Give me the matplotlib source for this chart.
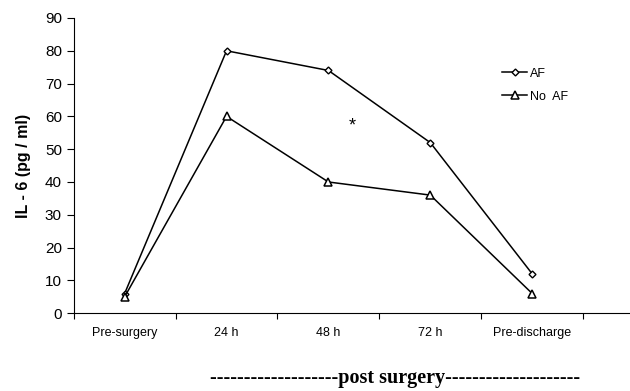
import numpy as np
import matplotlib.pyplot as plt

plt.rcParams['font.family'] = ['Liberation Sans', 'DejaVu Sans']

categories = ["Pre-surgery", "24 h", "48 h", "72 h", "Pre-discharge"]
af = [6, 80, 74, 52, 12]
no_af = [5, 60, 40, 36, 6]

x = np.arange(len(categories))

fig = plt.figure(figsize=(6.3, 3.91), dpi=100)
ax = fig.add_axes([0.117, 0.199, 0.883, 0.755])

ax.plot(x, af, color="k", lw=1.1, marker="D", ms=3.5, mfc="white", mec="k", mew=1, label="AF")
ax.plot(x, no_af, color="k", lw=1.1, marker="^", ms=6, mfc="white", mec="k", mew=1.1, label="No  AF")
ax.text(2.23, 57, "*", ha="center", va="center", fontsize=13)

ax.set_ylim(0, 90)
ax.set_yticks(np.arange(0, 91, 10))
ax.set_xlim(-0.5, 4.96)
ax.set_xticks(np.arange(-0.5, 5, 1))
ax.set_xticks(x, minor=True)
ax.set_xticklabels([])
ax.set_xticklabels(categories, minor=True)
ax.tick_params(axis="x", which="minor", length=0, labelsize=9, pad=10)
ax.tick_params(axis="x", which="major", length=4, direction="out")
ax.tick_params(axis="y", labelsize=11, length=5)
for s in ["top", "right"]:
    ax.spines[s].set_visible(False)
ax.spines["left"].set_position(("data", -0.5))

ax.set_ylabel("IL - 6 (pg / ml)", fontsize=11.5, fontweight="bold", labelpad=10)
ax.legend(loc="upper left", bbox_to_anchor=(0.75, 0.87), frameon=False, fontsize=9,
          handlelength=2.0, handletextpad=0.2, labelspacing=0.9)

fig.text(0.627, 0.02, "-------------------post surgery--------------------",
         family=["Liberation Serif", "DejaVu Serif"], fontweight="bold", fontsize=14.5,
         ha="center", va="baseline")

fig.savefig("out.png", dpi=100)
